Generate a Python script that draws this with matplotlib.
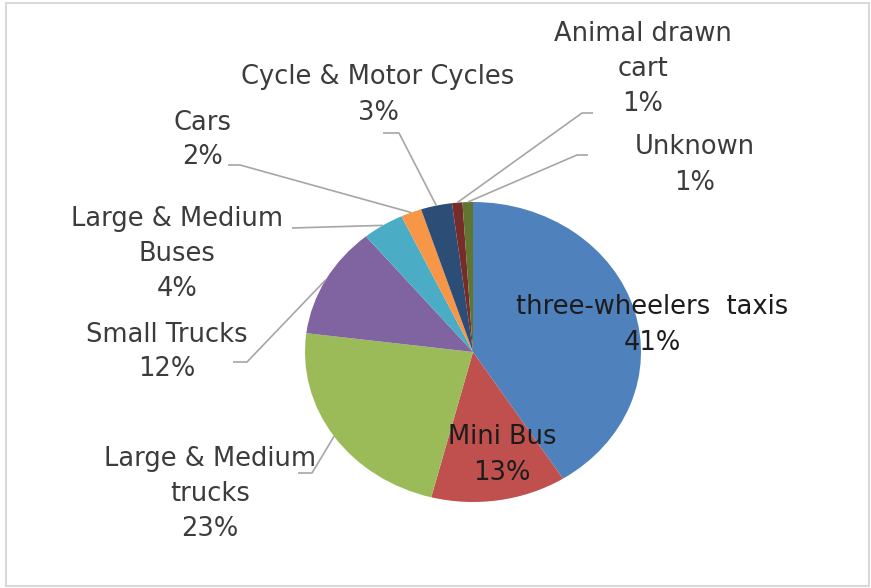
import numpy as np
import matplotlib
matplotlib.use("Agg")
import matplotlib.pyplot as plt
from matplotlib.patches import Rectangle

# vehicle categories, clockwise from 12 o'clock
categories = [
    "three-wheelers  taxis",
    "Mini Bus",
    "Large & Medium\ntrucks",
    "Small Trucks",
    "Large & Medium\nBuses",
    "Cars",
    "Cycle & Motor Cycles",
    "Animal drawn\ncart",
    "Unknown",
]
shares = [41, 13, 23, 12, 4, 2, 3, 1, 1]
colors = ["#4F81BD", "#C0504D", "#9BBB59", "#8064A2", "#4BACC6",
          "#F79646", "#2C4D75", "#772C2A", "#5F7530"]

W, H = 871, 588
CX, CY, RX, RY = 473, 352, 168, 150


def at(px, py):
    # pixel position (from top-left) -> data coords of the stretched pie axes
    return (px - CX) / RX, (CY - py) / RY


# label block centres in pixels, plus the elbow of the leader line (None = inside)
label_pos = {
    0: ((652, 325), None),
    1: ((502, 455), None),
    2: ((210, 494), [(298, 473), (312, 473)]),
    3: ((167, 352), [(233, 362), (247, 362)]),
    4: ((177, 254), [(292, 228)]),
    5: ((202, 140), [(228, 165), (240, 165)]),
    6: ((378, 95), [(383, 133), (399, 133)]),
    7: ((643, 69), [(593, 113), (582, 113)]),
    8: ((695, 165), [(588, 155), (577, 155)]),
}

plt.rcParams["font.family"] = ["DejaVu Sans"]

fig = plt.figure(figsize=(W / 100, H / 100), dpi=100)
ax = fig.add_axes([0, 0, 1, 1])

wedges, _ = ax.pie(shares, colors=colors, startangle=90, counterclock=False,
                   radius=1, wedgeprops=dict(linewidth=0))
ax.set_aspect("auto")
x0, y0 = at(0, H)
x1, y1 = at(W, 0)
ax.set_xlim(x0, x1)
ax.set_ylim(y0, y1)
ax.axis("off")

total = sum(shares)
cum = np.cumsum([0] + shares)
for i, (name, val) in enumerate(zip(categories, shares)):
    (lx, ly), elbow = label_pos[i]
    inside = elbow is None
    tx, ty = at(lx, ly)
    ax.text(tx, ty, f"{name}\n{val}%", ha="center", va="center",
            multialignment="center", fontsize=18.5, linespacing=1.45,
            color="#1c1c1c" if inside else "#3c3c3c", zorder=5)
    if not inside:
        mid = np.deg2rad((cum[i] + val / 2) / total * 360)
        ex, ey = np.sin(mid), np.cos(mid)
        pts = [at(*p) for p in elbow] + [(ex, ey)]
        xs, ys = zip(*pts)
        ax.plot(xs, ys, color="#A6A6A6", lw=1.2, solid_capstyle="butt", zorder=4)

# chart area frame
fig.patches.append(Rectangle((6 / W, 2 / H), 863 / W, 583 / H, transform=fig.transFigure,
                             fill=False, edgecolor="#D9D9D9", lw=1.5))

fig.savefig("out.png", dpi=100)
